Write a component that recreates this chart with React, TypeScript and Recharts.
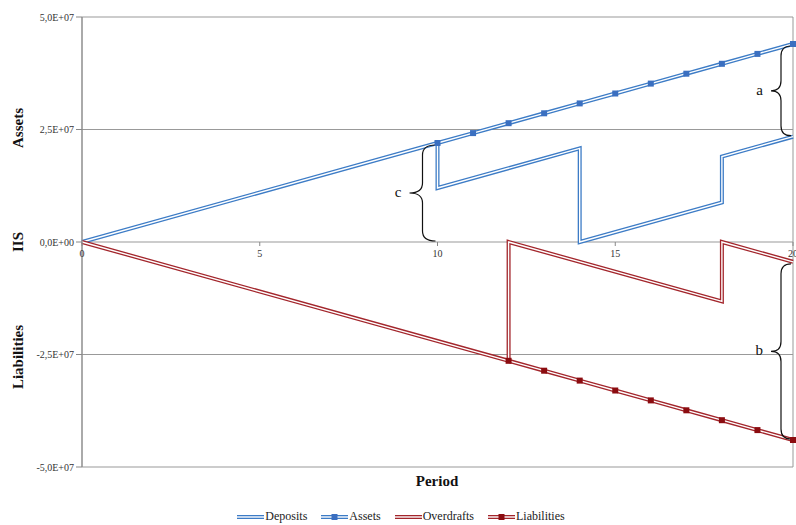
import React from "react";
import { CartesianGrid, Line, LineChart, ReferenceDot, ReferenceLine, XAxis, YAxis } from "recharts";

// x axis
const periodTicks = [0, 5, 10, 15, 20];
// y axis
const valueTicks = [5e7, 2.5e7, 0, -2.5e7, -5e7];
const valueTickLabels = ["5,0E+07", "2,5E+07", "0,0E+00", "-2,5E+07", "-5,0E+07"];

// series (repeated periods = vertical jumps)
const depositPeriods = [0, 10, 10, 14, 14, 18, 18, 20];
const depositValues = [0, 2.2e7, 1.2e7, 2.08e7, 0, 0.88e7, 1.9e7, 2.34e7];

const assetPeriods = [10, 11, 12, 13, 14, 15, 16, 17, 18, 19, 20];
const assetValues = [2.2e7, 2.42e7, 2.64e7, 2.86e7, 3.08e7, 3.3e7, 3.52e7, 3.74e7, 3.96e7, 4.18e7, 4.4e7];

const overdraftPeriods = [0, 12, 12, 18, 18, 20];
const overdraftValues = [0, -2.64e7, 0, -1.32e7, 0, -0.44e7];

const liabilityPeriods = [12, 13, 14, 15, 16, 17, 18, 19, 20];
const liabilityValues = [-2.64e7, -2.86e7, -3.08e7, -3.3e7, -3.52e7, -3.74e7, -3.96e7, -4.18e7, -4.4e7];

// brace annotations: label, period, from, to
const braceLabels = ["a", "b", "c"];
const bracePeriods = [20, 20, 10];
const braceFrom = [4.4e7, -0.44e7, 2.2e7];
const braceTo = [2.34e7, -4.4e7, 0];

const BLUE = "#3d7cc6";
const BLUE_MARK = "#3a6fc0";
const RED = "#a3262c";
const RED_MARK = "#8b0c10";
const SERIF = "'Liberation Serif', 'Times New Roman', serif";

const zip = (xs: number[], ys: number[]) => xs.map((x, i) => ({ x, y: ys[i] }));

const deposits = zip(depositPeriods, depositValues);
const assets = zip(assetPeriods, assetValues);
const overdrafts = zip(overdraftPeriods, overdraftValues);
const liabilities = zip(liabilityPeriods, liabilityValues);

const squareDot = (color: string) => (p: any) => (
    <rect key={`d-${p.index}`} x={p.cx - 3} y={p.cy - 3} width={6} height={6} fill={color} />
);

const braceShape = (label: string, width: number) => (p: any) => {
    const x0 = p.x1 - 2;
    const top = Math.min(p.y1, p.y2) + 2;
    const bot = Math.max(p.y1, p.y2) - 1;
    const mid = (top + bot) / 2;
    const xm = x0 - width / 2;
    const xt = x0 - width;
    const q = Math.min(10, (bot - top) / 6);
    const d = `M${x0},${top} Q${xm},${top} ${xm},${top + q} L${xm},${mid - q} Q${xm},${mid} ${xt},${mid}` +
        ` Q${xm},${mid} ${xm},${mid + q} L${xm},${bot - q} Q${xm},${bot} ${x0},${bot}`;
    return (
        <g>
            <path d={d} fill="none" stroke="#111" strokeWidth={1.2} />
            <text x={xt - 8} y={mid + 4} textAnchor="end" fontFamily={SERIF} fontSize={15} fill="#111">{label}</text>
        </g>
    );
};

const legendItems = [
    { name: "Deposits", color: BLUE, mark: "" },
    { name: "Assets", color: BLUE, mark: BLUE_MARK },
    { name: "Overdrafts", color: RED, mark: "" },
    { name: "Liabilities", color: RED, mark: RED_MARK },
];

const sideLabel = (cy: number): React.CSSProperties => ({
    position: "absolute", left: 18, top: cy, transform: "translate(-50%, -50%) rotate(-90deg)",
    fontFamily: SERIF, fontWeight: "bold", fontSize: 15, whiteSpace: "nowrap", color: "#111",
});

export default function App() {
    return (
        <div style={{ position: "absolute", left: 0, top: 0, width: 796, height: 525, background: "#fff" }}>
            <LineChart width={796} height={525} data={deposits} margin={{ top: 17, right: 3, left: 0, bottom: 58 }}>
                <CartesianGrid stroke="#999" strokeWidth={1} />
                <XAxis type="number" dataKey="x" domain={[0, 20]} ticks={periodTicks} height={0}
                    tick={false} tickLine={false} axisLine={false} allowDuplicatedCategory />
                <YAxis type="number" domain={[-5e7, 5e7]} ticks={valueTicks} width={82}
                    tickFormatter={(v: number) => valueTickLabels[valueTicks.indexOf(v)]}
                    tick={{ fontFamily: SERIF, fontSize: 10, fill: "#333" }}
                    tickSize={6} stroke="#888" />
                {periodTicks.map((t) => (
                    <ReferenceDot key={`t${t}`} x={t} y={0} r={0} isFront
                        shape={(p: any) => (
                            <g>
                                <line x1={p.cx} y1={p.cy} x2={p.cx} y2={p.cy + 4} stroke="#888" />
                                <text x={p.cx} y={p.cy + 15} textAnchor="middle" fontFamily={SERIF} fontSize={10} fill="#333">{t}</text>
                            </g>
                        )} />
                ))}
                <Line data={deposits} dataKey="y" type="linear" stroke={BLUE} strokeWidth={4} dot={false} activeDot={false} isAnimationActive={false} />
                <Line data={deposits} dataKey="y" type="linear" stroke="#fff" strokeWidth={1.4} dot={false} activeDot={false} isAnimationActive={false} />
                <Line data={overdrafts} dataKey="y" type="linear" stroke={RED} strokeWidth={4} dot={false} activeDot={false} isAnimationActive={false} />
                <Line data={overdrafts} dataKey="y" type="linear" stroke="#fff" strokeWidth={1.4} dot={false} activeDot={false} isAnimationActive={false} />
                <Line data={assets} dataKey="y" type="linear" stroke={BLUE} strokeWidth={4} dot={false} activeDot={false} isAnimationActive={false} />
                <Line data={assets} dataKey="y" type="linear" stroke="#fff" strokeWidth={1.4} dot={squareDot(BLUE_MARK)} activeDot={false} isAnimationActive={false} />
                <Line data={liabilities} dataKey="y" type="linear" stroke={RED} strokeWidth={4} dot={false} activeDot={false} isAnimationActive={false} />
                <Line data={liabilities} dataKey="y" type="linear" stroke="#fff" strokeWidth={1.4} dot={squareDot(RED_MARK)} activeDot={false} isAnimationActive={false} />
                {braceLabels.map((l, i) => (
                    <ReferenceLine key={l} segment={[{ x: bracePeriods[i], y: braceFrom[i] }, { x: bracePeriods[i], y: braceTo[i] }]}
                        shape={braceShape(l, i === 2 ? 26 : 20)} />
                ))}
            </LineChart>
            <div style={sideLabel(128)}>Assets</div>
            <div style={sideLabel(242)}>IIS</div>
            <div style={sideLabel(357)}>Liabilities</div>
            <div style={{ position: "absolute", left: 437, top: 481, transform: "translate(-50%, -50%)", fontFamily: SERIF, fontWeight: "bold", fontSize: 15, color: "#111" }}>Period</div>
            <div style={{ position: "absolute", left: 0, width: 802, top: 509, display: "flex", justifyContent: "center", gap: 14, fontFamily: SERIF, fontSize: 12, color: "#222" }}>
                {legendItems.map((it) => (
                    <div key={it.name} style={{ display: "flex", alignItems: "center" }}>
                        <svg width={27} height={10} style={{ marginRight: 1 }}>
                            <line x1={0} y1={5} x2={27} y2={5} stroke={it.color} strokeWidth={4} />
                            <line x1={0} y1={5} x2={27} y2={5} stroke="#fff" strokeWidth={1.4} />
                            {it.mark && <rect x={10.5} y={2} width={6} height={6} fill={it.mark} />}
                        </svg>
                        <span>{it.name}</span>
                    </div>
                ))}
            </div>
        </div>
    );
}
